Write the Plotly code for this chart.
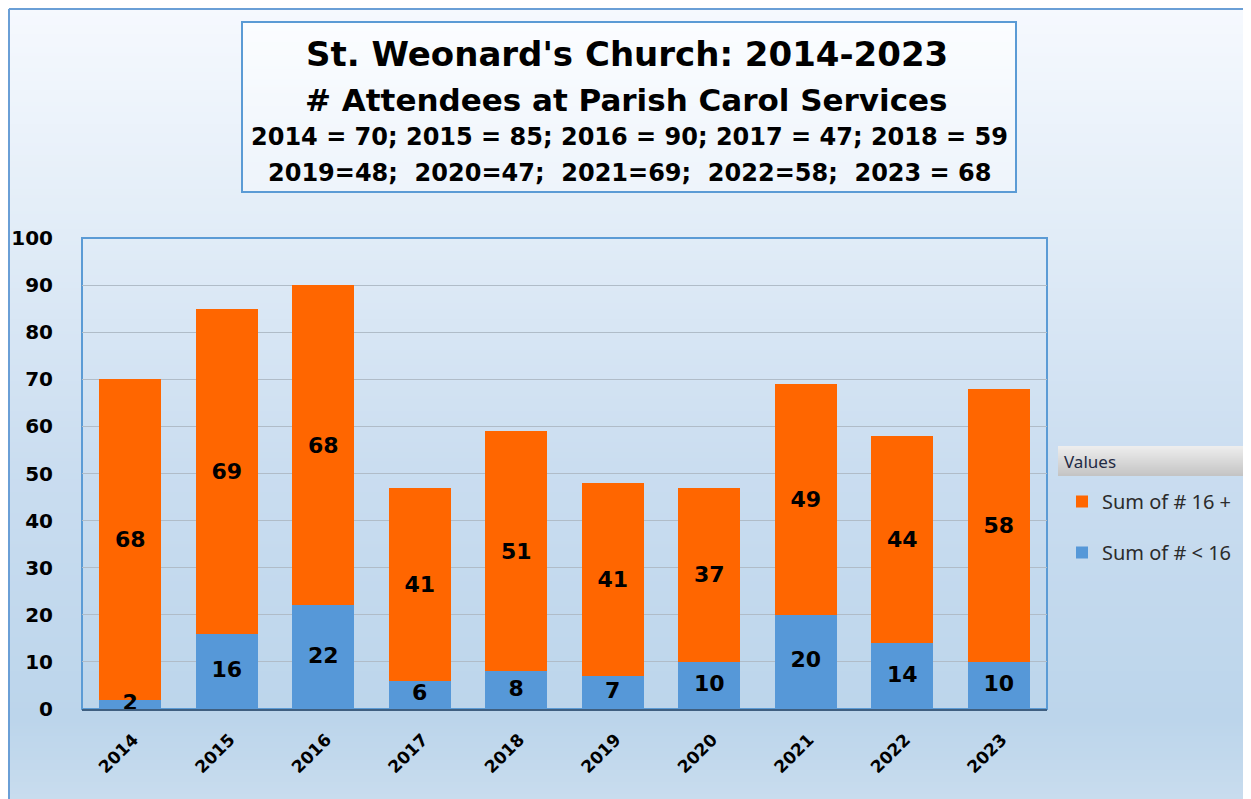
import base64, struct, zlib
import plotly.graph_objects as go

# ---------------- data ----------------
years = ["2014", "2015", "2016", "2017", "2018", "2019", "2020", "2021", "2022", "2023"]
under_16 = [2, 16, 22, 6, 8, 7, 10, 20, 14, 10]
age_16_plus = [68, 69, 68, 41, 51, 41, 37, 49, 44, 58]
totals = [70, 85, 90, 47, 59, 48, 47, 69, 58, 68]
y_ticks = [0, 10, 20, 30, 40, 50, 60, 70, 80, 90, 100]

title_line1 = "St. Weonard's Church: 2014-2023"
title_line2 = "# Attendees at Parish Carol Services"
title_line3 = "; ".join(f"{y} = {t}" for y, t in zip(years[:5], totals[:5]))
title_line4 = "2019=48;  2020=47;  2021=69;  2022=58;  2023 = 68"

# ---------------- geometry helpers (reference pixel coords) ----------------
W, H = 1251, 799
OFF = 8  # page body margin
PL, PR, PT, PB = 82, 1047, 238, 709  # plot area in reference pixels


def px(x):
    return (x - PL) / (PR - PL)


def py(y):
    return (PB - y) / (PB - PT)


def png_gradient(stops, height=256, width=1):
    """Vertical gradient PNG as data URI. stops: list of (t, (r,g,b))."""
    rows = b""
    for i in range(height):
        t = i / (height - 1)
        for j in range(len(stops) - 1):
            t0, c0 = stops[j]
            t1, c1 = stops[j + 1]
            if t0 <= t <= t1:
                f = (t - t0) / (t1 - t0) if t1 > t0 else 0
                c = tuple(int(round(c0[k] + (c1[k] - c0[k]) * f)) for k in range(3))
                break
        rows += b"\x00" + bytes(c) * width

    def chunk(tag, data):
        return struct.pack(">I", len(data)) + tag + data + struct.pack(">I", zlib.crc32(tag + data) & 0xFFFFFFFF)
    png = b"\x89PNG\r\n\x1a\n"
    png += chunk(b"IHDR", struct.pack(">IIBBBBB", width, height, 8, 2, 0, 0, 0))
    png += chunk(b"IDAT", zlib.compress(rows))
    png += chunk(b"IEND", b"")
    return "data:image/png;base64," + base64.b64encode(png).decode()


bg_img = png_gradient([
    (0.0, (0xf6, 0xf9, 0xfe)),
    (0.25, (0xe4, 0xee, 0xf8)),
    (0.58, (0xca, 0xdd, 0xf0)),
    (0.90, (0xbc, 0xd5, 0xeb)),
    (1.0, (0xc8, 0xdc, 0xee)),
])
hdr_img = png_gradient([
    (0.0, (0xee, 0xee, 0xee)),
    (1.0, (0xc4, 0xc4, 0xc4)),
], height=64)
box_img = png_gradient([
    (0.0, (0xfb, 0xfd, 0xff)),
    (1.0, (0xee, 0xf4, 0xfb)),
], height=64)

BOLD = "DejaVu Sans"
REG = "Noto Sans"
LABEL_FONT = dict(family=BOLD, size=22, color="black", weight="bold")

fig = go.Figure()
fig.add_trace(go.Bar(
    x=years, y=under_16, name="Sum of # < 16",
    marker=dict(color="#5698d8", line=dict(width=0)),
    legendgroup="b", legendrank=2,
))
fig.add_trace(go.Bar(
    x=years, y=age_16_plus, name="Sum of # 16 +",
    marker=dict(color="#ff6600", line=dict(width=0)),
    text=age_16_plus, textposition="inside", insidetextanchor="middle", textangle=0,
    constraintext="none", cliponaxis=False,
    textfont=LABEL_FONT,
    legendgroup="a", legendrank=1,
))
# labels of the lower segment, drawn above all bars
fig.add_trace(go.Scatter(
    x=years, y=[v / 2 for v in under_16], mode="text",
    text=[str(v) for v in under_16], textposition="middle center",
    textfont=LABEL_FONT, showlegend=False, cliponaxis=False, hoverinfo="skip",
))

images = [
    dict(source=bg_img, xref="paper", yref="paper", x=px(OFF), y=py(OFF),
         sizex=(W - OFF) / (PR - PL), sizey=(H - OFF) / (PB - PT), sizing="stretch",
         xanchor="left", yanchor="top", layer="below"),
    dict(source=box_img, xref="paper", yref="paper", x=px(242), y=py(22),
         sizex=(1016 - 242) / (PR - PL), sizey=(192 - 22) / (PB - PT), sizing="stretch",
         xanchor="left", yanchor="top", layer="below"),
    dict(source=hdr_img, xref="paper", yref="paper", x=px(1058), y=py(446),
         sizex=(1245 - 1058) / (PR - PL), sizey=(476 - 446) / (PB - PT), sizing="stretch",
         xanchor="left", yanchor="top", layer="below"),
]

FRAME = "#6a9fd6"
shapes = [
    dict(type="line", xref="paper", yref="paper", x0=px(9), x1=px(9), y0=py(9), y1=py(805),
         line=dict(color=FRAME, width=2)),
    dict(type="line", xref="paper", yref="paper", x0=px(9), x1=px(1248), y0=py(9), y1=py(9),
         line=dict(color=FRAME, width=2)),
    dict(type="line", xref="paper", yref="paper", x0=px(1248), x1=px(1248), y0=py(9), y1=py(805),
         line=dict(color=FRAME, width=2)),
    dict(type="rect", xref="paper", yref="paper", x0=px(242), x1=px(1016), y0=py(192), y1=py(22),
         line=dict(color="#5b9bd5", width=2), fillcolor="rgba(0,0,0,0)"),
    dict(type="rect", xref="paper", yref="paper", x0=0, x1=1, y0=0, y1=1,
         line=dict(color="#5b9bd5", width=2), fillcolor="rgba(0,0,0,0)", layer="below"),
]

annotations = [
    dict(text=title_line1, x=px(627), y=py(54), font=dict(family=BOLD, size=34, color="black", weight="bold")),
    dict(text=title_line2, x=px(626), y=py(100), font=dict(family=BOLD, size=31, color="black", weight="bold")),
    dict(text=title_line3, x=px(629), y=py(137), font=dict(family=BOLD, size=24, color="black", weight="bold")),
    dict(text=title_line4, x=px(629), y=py(173), font=dict(family=BOLD, size=24, color="black", weight="bold")),
    dict(text="Values", x=px(1062), y=py(461), xanchor="left",
         font=dict(family=REG, size=17, color="#1f2a44")),
]
for a in annotations:
    a.update(xref="paper", yref="paper", showarrow=False)
    a.setdefault("xanchor", "center")
    a["yanchor"] = "middle"

fig.update_layout(
    width=W - OFF, height=H - OFF,
    margin=dict(l=PL - OFF, r=W - PR, t=PT - OFF, b=H - PB, pad=0, autoexpand=False),
    barmode="stack", bargap=0.36,
    paper_bgcolor="white", plot_bgcolor="rgba(0,0,0,0)",
    font=dict(family=REG),
    showlegend=True,
    legend=dict(
        x=px(1062), y=py(482), xanchor="left", yanchor="top",
        bgcolor="rgba(0,0,0,0)", traceorder="grouped", tracegroupgap=22,
        font=dict(family=REG, size=20, color="#2b2b2b"),
        itemwidth=30,
    ),
    xaxis=dict(
        type="category", tickangle=-45, showgrid=False, showline=True,
        linecolor="#3f5f80", linewidth=2, automargin=False,
        tickfont=dict(family=BOLD, size=17, color="black", weight="bold"),
        ticks="", ticklabelstandoff=12, ticklabelshift=3,
    ),
    yaxis=dict(
        range=[0, 100], tickvals=y_ticks, showgrid=True, gridcolor="#b0bcc8", gridwidth=1,
        zeroline=False, showline=False, automargin=False,
        tickfont=dict(family=BOLD, size=20, color="black", weight="bold"),
        ticks="", ticklabelstandoff=28,
    ),
    images=images, shapes=shapes, annotations=annotations,
)

fig.write_html("out.html")
